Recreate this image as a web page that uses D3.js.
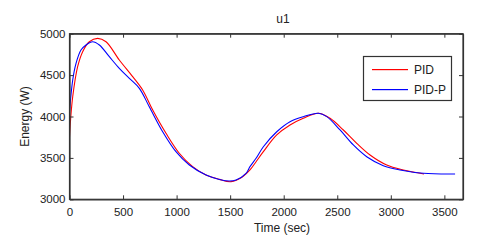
<!DOCTYPE html>
<html><head><meta charset="utf-8">
<script src="https://cdn.jsdelivr.net/npm/d3@7"></script>
<style>
html,body{margin:0;padding:0;background:#fff;}
svg{display:block;font-family:"Liberation Sans",Arial,sans-serif;}
</style></head>
<body>
<script>
const title = "u1";
const xLabel = "Time (sec)";
const yLabel = "Energy (W)";
const xTicks = [0, 500, 1000, 1500, 2000, 2500, 3000, 3500];
const yTicks = [3000, 3500, 4000, 4500, 5000];
const seriesNames = ["PID", "PID-P"];
const seriesColors = ["#ff0000", "#0000ff"];

const pidX = [0,10,30,76,123,185,263,341,465,590,683,777,901,1025,1150,1275,1399,1508,1617,1685,1742,1810,1935,2059,2183,2324,2433,2557,2682,2806,2962,3117,3310];
const pidY = [3756,3960,4239,4601,4783,4903,4944,4903,4682,4481,4320,4078,3797,3556,3394,3293,3241,3213,3273,3354,3454,3575,3777,3897,3978,4039,3978,3837,3676,3535,3414,3354,3306];

const pidpX = [0,30,61,107,154,216,279,372,465,559,652,745,870,994,1119,1275,1400,1492,1555,1648,1685,1742,1810,1935,2059,2183,2324,2402,2526,2650,2775,2930,3086,3304,3600];
const pidpY = [4060,4441,4642,4803,4864,4903,4864,4722,4582,4461,4340,4118,3816,3575,3414,3293,3240,3221,3233,3314,3394,3495,3635,3816,3937,3998,4039,3998,3837,3656,3514,3406,3354,3314,3306];

const W = 480, H = 251;
const L = 69.5, R = 463, T = 33.7, B = 199.3;
const svg = d3.select("body").append("svg").attr("width", W).attr("height", H);

const x = d3.scaleLinear().domain([0, 3674]).range([L, R]);
const y = d3.scaleLinear().domain([3000, 5000]).range([B, T]);
const axisColor = "#333";
const textColor = "#222";
const fmt = d3.format("d");

// series
const line = d3.line().x(d => x(d[0])).y(d => y(d[1])).curve(d3.curveCatmullRom.alpha(0.5));
const series = [d3.zip(pidX, pidY), d3.zip(pidpX, pidpY)];
series.forEach((s, i) => {
  svg.append("path").datum(s).attr("d", line)
    .attr("fill", "none").attr("stroke", seriesColors[i]).attr("stroke-width", 1.1);
});

// axes
const fs = "11.5px";
const xb = svg.append("g").attr("transform", `translate(0,${B})`)
  .call(d3.axisBottom(x).tickValues(xTicks).tickFormat(fmt).tickSizeInner(-4).tickSizeOuter(0).tickPadding(9));
const xt = svg.append("g").attr("transform", `translate(0,${T})`)
  .call(d3.axisTop(x).tickValues(xTicks).tickSizeInner(-4).tickSizeOuter(0).tickFormat(""));
const yl = svg.append("g").attr("transform", `translate(${L},0)`)
  .call(d3.axisLeft(y).tickValues(yTicks).tickFormat(fmt).tickSizeInner(-4).tickSizeOuter(0).tickPadding(4));
const yr = svg.append("g").attr("transform", `translate(${R},0)`)
  .call(d3.axisRight(y).tickValues(yTicks).tickSizeInner(-4).tickSizeOuter(0).tickFormat(""));
[xb, xt, yl, yr].forEach(g => {
  g.select(".domain").attr("stroke", axisColor).attr("stroke-width", 1.2);
  g.selectAll(".tick line").attr("stroke", axisColor);
  g.selectAll("text").attr("fill", textColor).style("font-size", fs)
    .style("font-family", '"Liberation Sans",Arial,sans-serif');
});
// full box
svg.append("rect").attr("x", L).attr("y", T).attr("width", R - L).attr("height", B - T)
  .attr("fill", "none").attr("stroke", axisColor).attr("stroke-width", 1.2);

// labels
svg.append("text").attr("x", 283).attr("y", 23).attr("text-anchor", "middle")
  .attr("fill", textColor).style("font-size", "12px").text(title);
svg.append("text").attr("x", 282).attr("y", 232).attr("text-anchor", "middle")
  .attr("fill", textColor).style("font-size", "12px").text(xLabel);
svg.append("text").attr("transform", `translate(29,${(T + B) / 2}) rotate(-90)`)
  .attr("text-anchor", "middle").attr("fill", textColor).style("font-size", "12px").text(yLabel);

// legend
const lg = svg.append("g");
lg.append("rect").attr("x", 363.5).attr("y", 56.5).attr("width", 88).attr("height", 44)
  .attr("fill", "#ffffff").attr("stroke", axisColor).attr("stroke-width", 1.2);
seriesNames.forEach((n, i) => {
  const yy = 69 + i * 20;
  lg.append("rect").attr("x", 372).attr("y", yy).attr("width", 36).attr("height", 1.2)
    .attr("fill", seriesColors[i]).attr("stroke", "none");
  lg.append("text").attr("x", 414).attr("y", yy + 4.7).attr("fill", textColor)
    .style("font-size", "12px").text(n);
});
</script>
</body></html>
